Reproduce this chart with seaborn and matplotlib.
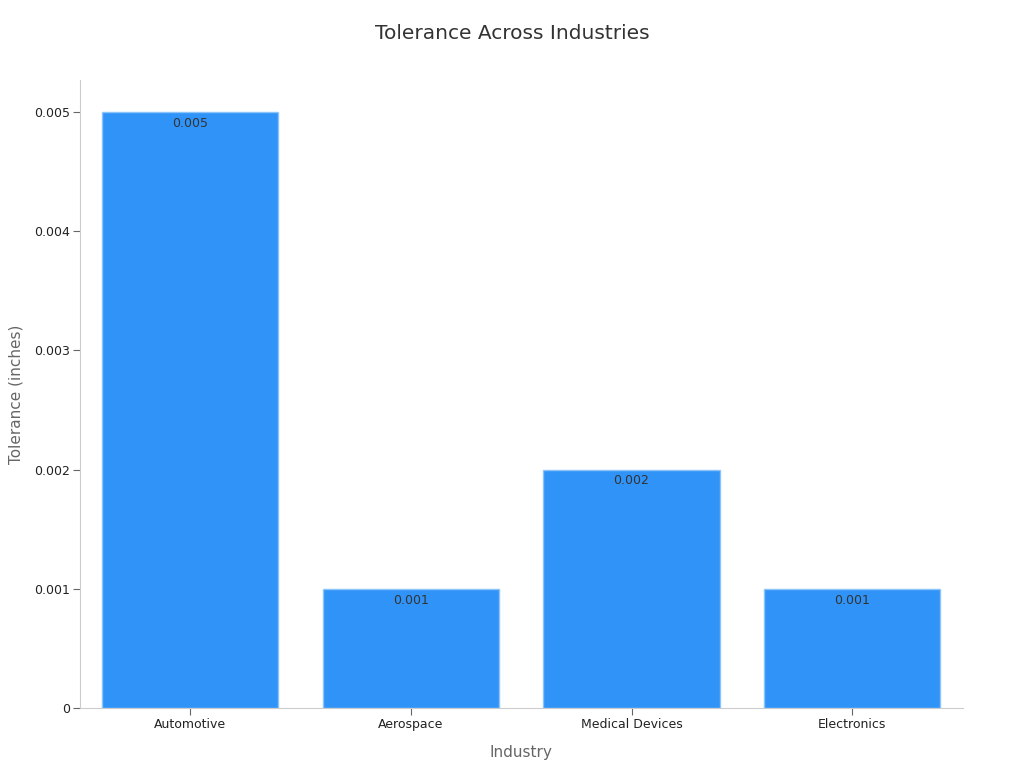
import matplotlib
matplotlib.use("Agg")
import matplotlib.pyplot as plt
import seaborn as sns
import pandas as pd
from matplotlib.ticker import FuncFormatter

# chart data
industries = ["Automotive", "Aerospace", "Medical Devices", "Electronics"]
tolerances = [0.005, 0.001, 0.002, 0.001]
value_labels = ["0.005", "0.001", "0.002", "0.001"]
y_ticks = [0, 0.001, 0.002, 0.003, 0.004, 0.005]

df = pd.DataFrame({"Industry": industries, "Tolerance": tolerances})

sns.set_style("white")
plt.rcParams["font.family"] = ["DejaVu Sans"]

fig = plt.figure(figsize=(10.24, 7.68), dpi=100)
ax = fig.add_axes([0.078, 0.078, 0.862, 0.818])

sns.barplot(data=df, x="Industry", y="Tolerance", color="#2f93f8",
            saturation=1, width=0.8, edgecolor="#8cc4fa", linewidth=1, ax=ax)

for i, (v, lab) in enumerate(zip(tolerances, value_labels)):
    ax.text(i, v - 0.00004, lab, ha="center", va="top", fontsize=9, color="#333333")

ax.set_xlim(-0.5, 3.5)
ax.set_ylim(0, 0.00527)
ax.set_yticks(y_ticks)
ax.yaxis.set_major_formatter(FuncFormatter(lambda v, p: "0" if v == 0 else f"{v:.3f}"))

fig.text(0.5, 0.957, "Tolerance Across Industries", fontsize=14.5, color="#333333",
         ha="center", va="center")
ax.set_xlabel("Industry", fontsize=11, color="#666666", labelpad=10)
ax.set_ylabel("Tolerance (inches)", fontsize=11, color="#666666", labelpad=8)

for s in ["top", "right"]:
    ax.spines[s].set_visible(False)
for s in ["left", "bottom"]:
    ax.spines[s].set_color("#cccccc")
ax.tick_params(axis="both", bottom=True, left=True, length=5, width=0.8,
               color="#666666", labelsize=9, labelcolor="#222222")
ax.tick_params(axis="x", pad=2)
ax.tick_params(axis="y", pad=2)

fig.savefig("out.png", dpi=100)
